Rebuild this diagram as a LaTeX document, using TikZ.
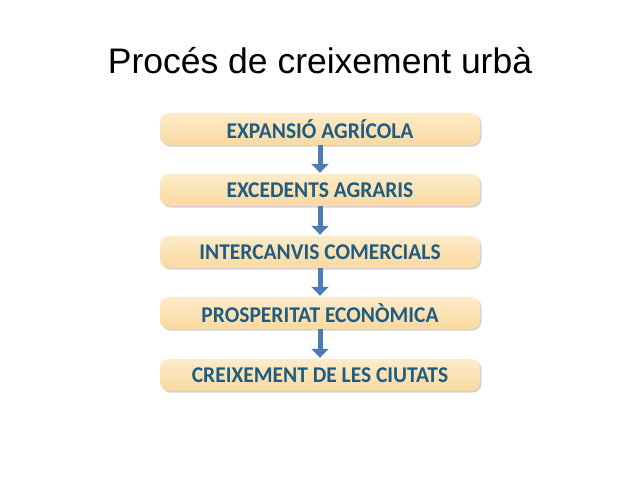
\documentclass[tikz,border=0pt]{standalone}
\usepackage{fontspec}
\setmainfont{Liberation Sans}
\newfontfamily\boxfont[FakeStretch=0.955]{Carlito}
\usetikzlibrary{shadows,arrows.meta}
\definecolor{boxtop}{HTML}{FDEBC8}
\definecolor{boxbot}{HTML}{FAD9A0}
\definecolor{boxtext}{HTML}{1F5C82}
\definecolor{arrowcol}{HTML}{4D7CB0}
\tikzset{
  stage/.style={rounded corners=9pt, minimum width=320pt, minimum height=32pt,
    top color=boxtop, bottom color=boxbot, inner sep=0pt,
    drop shadow={shadow xshift=1.5pt, shadow yshift=-1.5pt, fill=black!35, opacity=0.5},
    font=\boxfont\bfseries\fontsize{22.5}{26}\selectfont, text=boxtext},
  flow/.style={draw=arrowcol, line width=5pt, -{Triangle[width=17pt,length=9pt]}, shorten >=1pt}
}
\begin{document}
\begin{tikzpicture}[x=1pt,y=-1pt]
\useasboundingbox[fill=white] (0,0) rectangle (640,480);
\node[font=\fontsize{35.5}{40}\selectfont] (title) at (320,61) {Procés de creixement urbà};
\node[stage] (s1) at (320,129) {EXPANSIÓ AGRÍCOLA};
\node[stage] (s2) at (320,190) {EXCEDENTS AGRARIS};
\node[stage] (s3) at (320,252) {INTERCANVIS COMERCIALS};
\node[stage] (s4) at (320,313) {PROSPERITAT ECONÒMICA};
\node[stage] (s5) at (320,375) {CREIXEMENT DE LES CIUTATS};
\draw[flow] (s1) -- (s2);
\draw[flow] (s2) -- (s3);
\draw[flow] (s3) -- (s4);
\draw[flow] (s4) -- (s5);
\end{tikzpicture}
\end{document}
